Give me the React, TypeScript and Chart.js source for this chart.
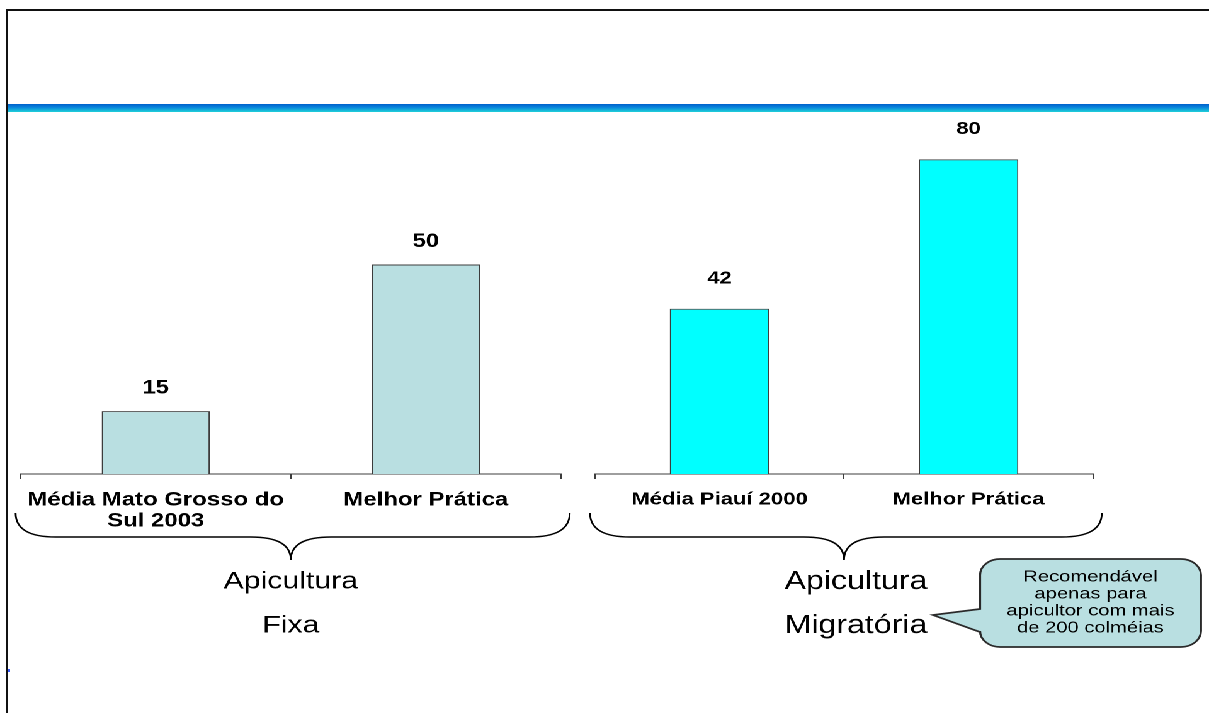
import { useEffect, useRef } from "react";
import { Chart, registerables } from "chart.js";

Chart.register(...registerables);

// The slide is laid out on a 960px-wide stage and stretched to the 1209px page width.
const PAGE_W = 1209;
const PAGE_H = 713;
const STAGE_W = 960;
const STRETCH = PAGE_W / STAGE_W;

// Apicultura fixa
const fixaCategories = [["Média Mato Grosso do", "Sul 2003"], "Melhor Prática"];
const fixaValues = [15, 50];
const fixaGroup = ["Apicultura", "Fixa"];

// Apicultura migratória
const migratoriaCategories = ["Média Piauí 2000", "Melhor Prática"];
const migratoriaValues = [42, 80];
const migratoriaGroup = ["Apicultura", "Migratória"];

const calloutLines = ["Recomendável", "apenas para", "apicultor com mais", "de 200 colméias"];

const FONT = 'Arial, "Liberation Sans", Helvetica, sans-serif';
const AXIS = "#3c3c3c";
const PALE = "#B9DFE1";
const CYAN = "#00FFFF";

const BASELINE_Y = 474;
const PLOT_TOP = 120;

type Panel = {
  labels: (string | string[])[];
  values: number[];
  color: string;
  yMax: number;
  padLeft: number;
  padRight: number;
  fontSize: number;
  valueGap: number;
  group: string[];
  groupSize: number;
  groupShift: number;
  callout: boolean;
};

const fixaPanel: Panel = {
  labels: fixaCategories,
  values: fixaValues,
  color: PALE,
  yMax: 84.5,
  padLeft: 16.4,
  padRight: 514.6,
  fontSize: 19,
  valueGap: 23,
  group: fixaGroup,
  groupSize: 24,
  groupShift: 0,
  callout: false,
};

const migratoriaPanel: Panel = {
  labels: migratoriaCategories,
  values: migratoriaValues,
  color: CYAN,
  yMax: 90,
  padLeft: 472.5,
  padRight: 92.1,
  fontSize: 17.5,
  valueGap: 30,
  group: migratoriaGroup,
  groupSize: 25.5,
  groupShift: 9.5,
  callout: true,
};

function drawBrace(ctx: CanvasRenderingContext2D, left: number, right: number, mid: number) {
  const yTop = 513;
  const yMid = 537;
  const yTip = 560;
  const r = 32;
  ctx.beginPath();
  ctx.moveTo(left, yTop);
  ctx.quadraticCurveTo(left, yMid, left + r, yMid);
  ctx.lineTo(mid - r, yMid);
  ctx.quadraticCurveTo(mid, yMid, mid, yTip);
  ctx.quadraticCurveTo(mid, yMid, mid + r, yMid);
  ctx.lineTo(right - r, yMid);
  ctx.quadraticCurveTo(right, yMid, right, yTop);
  ctx.strokeStyle = "#000";
  ctx.lineWidth = 1.4;
  ctx.stroke();
}

function drawCallout(ctx: CanvasRenderingContext2D) {
  const L = 778.2;
  const R = 953.6;
  const T = 559;
  const B = 647;
  const r = 16;
  const tipX = 740.8;
  const tipY = 615;
  ctx.beginPath();
  ctx.moveTo(L + r, T);
  ctx.lineTo(R - r, T);
  ctx.arcTo(R, T, R, T + r, r);
  ctx.lineTo(R, B - r);
  ctx.arcTo(R, B, R - r, B, r);
  ctx.lineTo(L + r, B);
  ctx.arcTo(L, B, L, B - r, r);
  ctx.lineTo(L, 632);
  ctx.lineTo(tipX, tipY);
  ctx.lineTo(L, 609);
  ctx.lineTo(L, T + r);
  ctx.arcTo(L, T, L + r, T, r);
  ctx.closePath();
  ctx.fillStyle = PALE;
  ctx.fill();
  ctx.strokeStyle = "#2a2a2a";
  ctx.lineWidth = 1.7;
  ctx.stroke();

  ctx.fillStyle = "#000";
  ctx.font = `16px ${FONT}`;
  ctx.textAlign = "center";
  ctx.textBaseline = "middle";
  const cx = (L + R) / 2;
  calloutLines.forEach((line, i) => ctx.fillText(line, cx, 577 + i * 17));
}

function buildPanel(canvas: HTMLCanvasElement, p: Panel) {
  const decor = {
    id: "panelDecor",
    afterDatasetsDraw(chart: Chart) {
      const ctx = chart.ctx;
      ctx.save();
      ctx.fillStyle = "#000";
      ctx.font = `bold ${p.fontSize}px ${FONT}`;
      ctx.textAlign = "center";
      ctx.textBaseline = "middle";
      const meta = chart.getDatasetMeta(0);
      const data = chart.data.datasets[0].data as number[];
      meta.data.forEach((bar: any, i: number) => {
        ctx.fillText(String(data[i]), bar.x, bar.y - p.valueGap);
      });
      ctx.restore();
    },
    afterDraw(chart: Chart) {
      const ctx = chart.ctx;
      const xs = chart.scales.x;
      const mid = (xs.left + xs.right) / 2;
      ctx.save();
      drawBrace(ctx, xs.left - 4, xs.right + 7, mid);
      ctx.fillStyle = "#000";
      ctx.font = `${p.groupSize}px ${FONT}`;
      ctx.textAlign = "center";
      ctx.textBaseline = "middle";
      p.group.forEach((line, i) => ctx.fillText(line, mid + p.groupShift, 582 + i * 44));
      if (p.callout) drawCallout(ctx);
      ctx.restore();
    },
  };

  return new Chart(canvas, {
    type: "bar",
    data: {
      labels: p.labels,
      datasets: [
        {
          data: p.values,
          backgroundColor: p.color,
          borderColor: AXIS,
          borderWidth: 1,
          barPercentage: 0.4,
          categoryPercentage: 1,
        },
      ],
    },
    options: {
      responsive: false,
      animation: false,
      devicePixelRatio: 2,
      layout: { padding: { left: p.padLeft, right: p.padRight, top: PLOT_TOP, bottom: 0 } },
      plugins: { legend: { display: false }, tooltip: { enabled: false }, title: { display: false } },
      scales: {
        y: { display: false, min: 0, max: p.yMax },
        x: {
          offset: true,
          grid: {
            offset: true,
            drawOnChartArea: false,
            drawTicks: true,
            tickLength: 5,
            color: AXIS,
            lineWidth: 1,
          },
          border: { display: true, color: AXIS, width: 1 },
          ticks: {
            color: "#000",
            font: { family: FONT, size: p.fontSize, weight: "bold", lineHeight: 1.1 },
            padding: 11,
            maxRotation: 0,
            minRotation: 0,
            autoSkip: false,
          },
          afterFit: (scale: any) => {
            scale.height = PAGE_H - BASELINE_Y;
          },
        },
      },
    },
    plugins: [decor],
  } as any);
}

export default function App() {
  const leftRef = useRef<HTMLCanvasElement>(null);
  const rightRef = useRef<HTMLCanvasElement>(null);

  useEffect(() => {
    const charts = [
      buildPanel(leftRef.current!, fixaPanel),
      buildPanel(rightRef.current!, migratoriaPanel),
    ];
    return () => charts.forEach((c) => c.destroy());
  }, []);

  return (
    <div
      style={{
        position: "fixed",
        left: 0,
        top: 0,
        width: PAGE_W,
        height: PAGE_H,
        overflow: "hidden",
        background: "#fff",
      }}
    >
      {/* slide frame */}
      <div
        style={{
          position: "absolute",
          left: 6,
          top: 9,
          width: PAGE_W + 50,
          height: PAGE_H + 50,
          borderLeft: "2px solid #111",
          borderTop: "2px solid #111",
        }}
      />
      {/* title rule */}
      <div
        style={{
          position: "absolute",
          left: 8,
          top: 104,
          width: PAGE_W - 8,
          height: 8,
          background: "linear-gradient(to bottom, #0060cc 0%, #0a88dc 45%, #1fd0d8 100%)",
        }}
      />
      <div style={{ position: "absolute", left: 8, top: 669, width: 2, height: 3, background: "#3a5cff" }} />
      <div
        style={{
          position: "absolute",
          left: 0,
          top: 0,
          width: STAGE_W,
          height: PAGE_H,
          transform: `scaleX(${STRETCH})`,
          transformOrigin: "0 0",
        }}
      >
        <canvas ref={leftRef} width={STAGE_W} height={PAGE_H} style={{ position: "absolute", left: 0, top: 0 }} />
        <canvas ref={rightRef} width={STAGE_W} height={PAGE_H} style={{ position: "absolute", left: 0, top: 0 }} />
      </div>
    </div>
  );
}
